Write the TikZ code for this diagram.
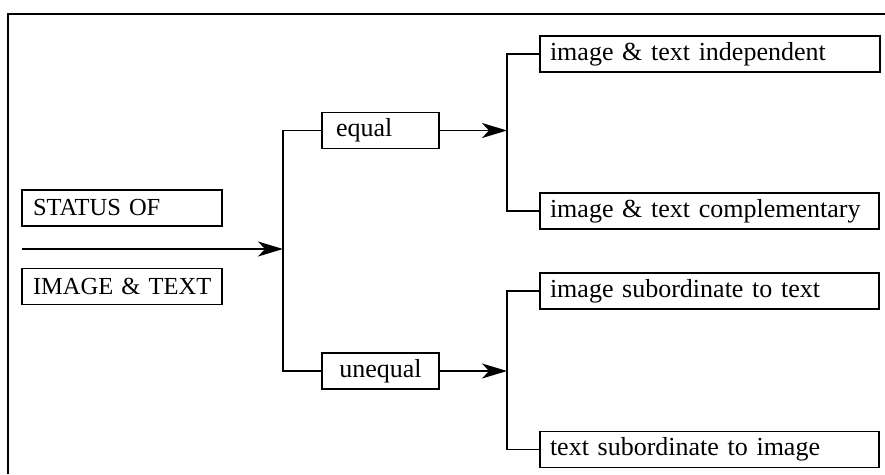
\documentclass[tikz,border=0pt]{standalone}
\usepackage{fontspec}
\setmainfont{Liberation Serif}
\usetikzlibrary{arrows.meta}
\begin{document}
\begin{tikzpicture}[x=1pt,y=-1pt,
  line width=1.6pt,
  box/.style={draw, rectangle, line width=1.6pt, minimum height=36pt, inner sep=0pt,
    font=\fontsize{26}{28}\selectfont, anchor=center},
  capbox/.style={box, minimum width=200pt, text width=178pt, align=left,
    font=\fontsize{24.5}{28}\selectfont},
  tip/.style={-{Stealth[length=25pt,width=15pt,inset=7pt]}}]
\useasboundingbox (0,0) rectangle (885,474);
% frame (cut off at right and bottom)
\draw[line width=2pt] (8,474) -- (8,14) -- (885,14);
% left boxes
\node[capbox] (status) at (122,208) {STATUS OF};
\node[capbox] (imgtxt) at (122,286.5) {\mbox{IMAGE \& TEXT}};
\coordinate (start) at (22,249);
\coordinate (j1) at (283,249);
\draw[tip] (start) -- (j1);
% middle boxes
\node[box, minimum width=117pt, text width=89pt, align=left] (equal) at (380.5,130.5) {equal};
\node[box, minimum width=117pt, text width=100pt, align=center] (unequal) at (380.5,371) {unequal};
\draw (equal.west) -| (j1) |- (unequal.west);
% right boxes
\node[box, minimum width=340pt, text width=320pt, align=left] (indep) at (710,54) {image \& text independent};
\node[box, minimum width=339pt, text width=319pt, align=left] (compl) at (709.5,211) {image \& text complementary};
\node[box, minimum width=339pt, text width=319pt, align=left] (subtxt) at (709.5,291) {image subordinate to text};
\node[box, minimum width=339pt, text width=319pt, align=left] (subimg) at (709.5,449.5) {text subordinate to image};
\coordinate (j2) at (507,130.5);
\coordinate (j3) at (507,371);
\draw[tip] (equal.east) -- (j2);
\draw[tip] (unequal.east) -- (j3);
\draw (indep.west) -| (j2) |- (compl.west);
\draw (subtxt.west) -| (j3) |- (subimg.west);
\end{tikzpicture}
\end{document}
